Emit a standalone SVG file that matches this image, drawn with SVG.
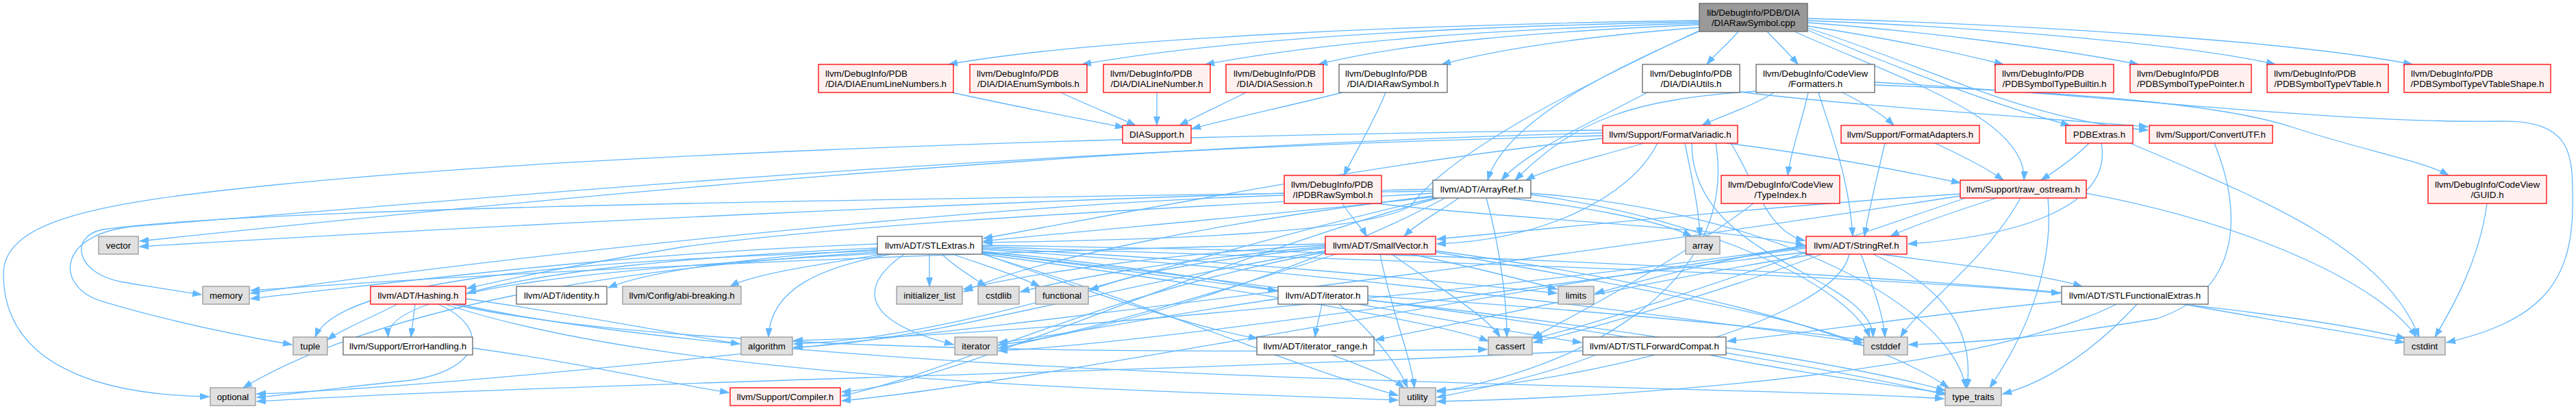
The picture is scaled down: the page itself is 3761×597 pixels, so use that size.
<svg xmlns="http://www.w3.org/2000/svg" width="3761" height="597" viewBox="0 0 3761 597">
<style>
text{font-family:"Liberation Sans",Arial,Helvetica,sans-serif;font-size:13.33px;fill:#000}
.c{text-anchor:middle}
.n rect{stroke-width:1.3}
.r rect{fill:#fff0f0;stroke:#ff0000}
.w rect{fill:#ffffff;stroke:#666666}
.g rect{fill:#e0e0e0;stroke:#999999}
.root rect{fill:#999999;stroke:#666666}
#edges path{fill:none;stroke:#63b8ff;stroke-width:1.3;marker-end:url(#a)}
</style>
<defs>
<marker id="a" viewBox="0 0 14 10" markerWidth="14" markerHeight="10" refX="13" refY="5" orient="auto" markerUnits="userSpaceOnUse"><path d="M0,0.5 L13,5 L0,9.5 z" fill="#63b8ff" stroke="#63b8ff" stroke-width="1"/></marker>
</defs>
<rect x="0" y="0" width="3761" height="597" fill="#ffffff"/>
<g id="edges">
<path d="M2481,30 C2100,35 1600,55 1385,94"/>
<path d="M2481,32 C2150,38 1800,55 1580,94"/>
<path d="M2481,34 C2200,42 1950,58 1760,94"/>
<path d="M2481,36 C2250,46 2050,62 1925,94"/>
<path d="M2481,40 C2330,52 2200,68 2105,94"/>
<path d="M2538,46 C2525,62 2505,78 2492,94"/>
<path d="M2580,46 C2595,62 2612,78 2625,94"/>
<path d="M2639,38 C2750,55 2850,75 2925,94"/>
<path d="M2639,33 C2800,45 3000,70 3122,94"/>
<path d="M2639,30 C2900,40 3200,65 3322,94"/>
<path d="M2639,27 C2950,35 3350,60 3522,94"/>
<path d="M2639,44 C2760,95 2900,150 3022,183"/>
<path d="M2639,41 C2800,90 2950,175 3136,190"/>
<path d="M2620,46 C2760,110 2960,170 2955,263"/>
<path d="M2483,45 C2380,90 2200,170 2172,263"/>
<path d="M2482,44 C2300,130 2120,220 2060,300 C2000,340 1700,350 1436,354"/>
<path d="M1390,135 C1480,155 1570,172 1641,186"/>
<path d="M1549,135 C1580,150 1625,168 1658,183"/>
<path d="M1689,135 L1689,183"/>
<path d="M1819,135 C1790,150 1750,168 1722,183"/>
<path d="M1960,135 C1880,155 1800,172 1740,188"/>
<path d="M2023,135 C2005,180 1980,220 1962,256"/>
<path d="M2540,134 C2680,152 2950,170 3136,185"/>
<path d="M2405,135 C2330,175 2230,220 2192,263"/>
<path d="M2590,135 C2560,155 2510,170 2485,183"/>
<path d="M2640,135 C2630,180 2615,220 2610,256"/>
<path d="M2690,135 C2720,150 2750,168 2765,183"/>
<path d="M2655,135 C2672,190 2700,260 2705,345"/>
<path d="M2566,133 C2380,145 2300,175 2212,263"/>
<path d="M2737,124 C2950,132 3220,145 3345,185 C3450,220 3540,235 3575,256"/>
<path d="M2737,120 C3100,140 3400,180 3650,177 C3760,175 3756,230 3756,300 C3756,420 3700,470 3572,500"/>
<path d="M2400,209 C2330,230 2260,245 2228,263"/>
<path d="M2340,190 C1500,200 800,230 400,270 C150,295 5,320 5,400 C5,520 120,576 305,579"/>
<path d="M2340,194 C1500,215 600,310 204,352"/>
<path d="M2340,198 C1400,220 600,300 200,330 C80,340 80,420 150,440 C250,470 350,490 426,503"/>
<path d="M2340,202 C2000,240 1700,300 1436,348"/>
<path d="M2420,209 C2380,290 2250,350 2098,356"/>
<path d="M2527,209 C2560,260 2580,340 2635,351"/>
<path d="M2520,209 C2650,225 2780,250 2862,267"/>
<path d="M2460,209 C2470,260 2480,300 2482,345"/>
<path d="M2470,209 C2470,380 2730,400 2735,492"/>
<path d="M2505,209 C2540,420 2300,540 2098,572"/>
<path d="M2825,209 C2860,225 2900,245 2925,263"/>
<path d="M2752,209 C2740,260 2730,300 2722,345"/>
<path d="M3050,209 C3030,230 3000,250 2980,263"/>
<path d="M3068,209 C3085,300 2950,345 2786,356"/>
<path d="M3110,209 C3300,290 3480,360 3532,492"/>
<path d="M3233,209 C3270,300 3280,420 3150,465 C3000,490 2900,500 2787,503"/>
<path d="M1960,297 C1975,320 1990,335 1995,345"/>
<path d="M1875,285 C1400,300 700,380 366,428"/>
<path d="M2010,297 C2200,320 2500,330 2635,358"/>
<path d="M2092,282 C1800,300 1300,320 1000,360 C850,385 750,405 682,421"/>
<path d="M2095,287 C1900,310 1600,335 1436,352"/>
<path d="M2130,289 C2100,310 2070,325 2050,345"/>
<path d="M2100,289 C1700,400 1400,560 1229,572"/>
<path d="M2095,289 C1700,380 1400,495 1159,502"/>
<path d="M2200,289 C2300,300 2420,320 2470,345"/>
<path d="M2170,289 C2190,360 2200,440 2200,492"/>
<path d="M2235,284 C2500,320 2700,420 2730,492"/>
<path d="M2094,286 C1800,320 1500,380 1407,426"/>
<path d="M2110,289 C1900,400 1600,490 1458,503"/>
<path d="M2092,279 C1400,290 400,300 150,335 C100,345 110,400 180,412 C230,420 260,425 294,430"/>
<path d="M2235,282 C2600,310 2850,450 2870,566"/>
<path d="M2092,276 C1500,290 700,330 204,360"/>
<path d="M1281,362 C1000,375 800,395 682,428"/>
<path d="M1434,367 C1800,400 2100,470 2309,500"/>
<path d="M1434,360 C2000,380 2700,400 3008,428"/>
<path d="M1281,364 C1100,375 950,395 888,420"/>
<path d="M1434,368 C1600,390 1750,410 1864,424"/>
<path d="M1434,370 C1600,430 1750,480 1836,494"/>
<path d="M1290,371 C1200,385 1100,400 1066,418"/>
<path d="M1285,370 C900,390 560,420 567,492"/>
<path d="M1300,371 C1200,390 1125,420 1122,492"/>
<path d="M1434,371 C1800,420 2100,470 2173,498"/>
<path d="M1434,364 C2000,400 2500,470 2719,500"/>
<path d="M1434,358 C2300,370 3200,420 3512,494"/>
<path d="M1375,371 C1395,390 1420,405 1440,418"/>
<path d="M1391,371 C1430,385 1480,400 1518,418"/>
<path d="M1357,371 L1357,418"/>
<path d="M1320,371 C1250,420 1260,470 1392,503"/>
<path d="M1434,362 C1800,380 2100,410 2273,428"/>
<path d="M1281,356 C900,370 600,410 366,436"/>
<path d="M1281,368 C900,390 550,450 355,566"/>
<path d="M1281,366 C900,380 500,400 460,492"/>
<path d="M1434,369 C2000,430 2600,520 2840,576"/>
<path d="M1434,371 C1700,450 1900,540 2041,577"/>
<path d="M1935,368 C1600,430 1400,540 1229,578"/>
<path d="M1935,366 C1600,420 1350,500 1159,507"/>
<path d="M2032,371 C2100,420 2170,460 2190,492"/>
<path d="M2096,368 C2400,420 2650,470 2719,504"/>
<path d="M1935,360 C1700,380 1550,410 1490,426"/>
<path d="M1935,362 C1750,380 1650,400 1591,424"/>
<path d="M1935,358 C1700,370 1500,400 1407,422"/>
<path d="M1950,371 C1800,420 1600,480 1458,508"/>
<path d="M2060,371 C2150,390 2230,410 2273,422"/>
<path d="M1935,356 C1300,370 700,400 366,424"/>
<path d="M2096,366 C2500,420 2750,500 2845,566"/>
<path d="M2015,371 C2030,450 2060,520 2065,566"/>
<path d="M606,444 L600,492"/>
<path d="M580,444 C540,465 500,480 478,496"/>
<path d="M640,444 C720,480 700,540 600,555 C500,565 430,575 375,580"/>
<path d="M680,436 C850,460 1000,490 1080,502"/>
<path d="M660,444 C1000,520 1800,515 2171,510"/>
<path d="M670,444 C1200,560 2500,560 2838,582"/>
<path d="M650,444 C1000,560 1700,570 2041,584"/>
<path d="M690,508 C850,530 950,555 1064,573"/>
<path d="M1930,444 C1927,460 1922,476 1920,492"/>
<path d="M1866,436 C1700,460 1550,490 1458,500"/>
<path d="M1997,432 C2300,450 2600,480 2721,496"/>
<path d="M1997,438 C2300,470 2700,530 2840,570"/>
<path d="M1955,444 C2000,480 2040,530 2055,566"/>
<path d="M1945,518 C1990,535 2030,550 2050,566"/>
<path d="M2311,512 C1800,540 800,560 375,586"/>
<path d="M2496,518 C2600,540 2750,560 2840,574"/>
<path d="M2330,518 C2250,550 2150,570 2098,580"/>
<path d="M3010,440 C2800,460 2650,485 2522,498"/>
<path d="M3189,444 C3300,465 3450,488 3510,500"/>
<path d="M3120,444 C3050,520 2980,560 2924,575"/>
<path d="M3090,444 C2900,540 2400,580 2098,586"/>
<path d="M2745,371 C2850,385 2980,400 3040,418"/>
<path d="M2650,371 C2400,410 2150,470 2008,496"/>
<path d="M2637,362 C2200,420 1500,560 1229,585"/>
<path d="M2637,360 C2200,420 1500,490 1159,497"/>
<path d="M2660,371 C2500,430 2320,480 2239,500"/>
<path d="M2717,371 C2735,420 2750,460 2752,492"/>
<path d="M2637,368 C2200,420 1700,500 1458,512"/>
<path d="M2637,358 C2500,380 2400,410 2329,428"/>
<path d="M2735,371 C2860,430 2880,500 2872,566"/>
<path d="M2700,371 C2680,470 2300,560 2098,570"/>
<path d="M2862,283 C2600,300 2300,330 2098,349"/>
<path d="M2915,289 C2850,310 2790,330 2760,345"/>
<path d="M2870,289 C2600,380 2350,470 2239,494"/>
<path d="M2950,289 C2900,380 2800,450 2775,492"/>
<path d="M3046,282 C3300,330 3480,420 3528,492"/>
<path d="M2862,286 C2000,420 800,560 375,575"/>
<path d="M2990,289 C3000,400 2950,500 2905,566"/>
<path d="M2560,297 C2450,380 2300,460 2237,493"/>
<path d="M3631,297 C3620,380 3580,450 3555,492"/>
</g>
<g id="n_root" class="n root"><rect x="2481" y="5" width="158" height="41"/><text class="c" x="2560" y="23">lib/DebugInfo/PDB/DIA</text><text class="c" x="2560" y="38">/DIARawSymbol.cpp</text></g>
<g id="n_enumLN" class="n r"><rect x="1195" y="94" width="197" height="41"/><text x="1205" y="112">llvm/DebugInfo/PDB</text><text class="c" x="1293.5" y="127">/DIA/DIAEnumLineNumbers.h</text></g>
<g id="n_enumSym" class="n r"><rect x="1416" y="94" width="171" height="41"/><text x="1426" y="112">llvm/DebugInfo/PDB</text><text class="c" x="1501.5" y="127">/DIA/DIAEnumSymbols.h</text></g>
<g id="n_lineNum" class="n r"><rect x="1611" y="94" width="156" height="41"/><text x="1621" y="112">llvm/DebugInfo/PDB</text><text class="c" x="1689" y="127">/DIA/DIALineNumber.h</text></g>
<g id="n_session" class="n r"><rect x="1790" y="94" width="142" height="41"/><text class="c" x="1861" y="112">llvm/DebugInfo/PDB</text><text class="c" x="1861" y="127">/DIA/DIASession.h</text></g>
<g id="n_rawSymH" class="n w"><rect x="1955" y="94" width="158" height="41"/><text x="1964" y="112">llvm/DebugInfo/PDB</text><text class="c" x="2034" y="127">/DIA/DIARawSymbol.h</text></g>
<g id="n_utils" class="n w"><rect x="2398" y="94" width="142" height="41"/><text class="c" x="2469" y="112">llvm/DebugInfo/PDB</text><text class="c" x="2469" y="127">/DIA/DIAUtils.h</text></g>
<g id="n_formatters" class="n w"><rect x="2564" y="94" width="173" height="41"/><text class="c" x="2650.5" y="112">llvm/DebugInfo/CodeView</text><text class="c" x="2650.5" y="127">/Formatters.h</text></g>
<g id="n_builtin" class="n r"><rect x="2913" y="94" width="173" height="41"/><text x="2923" y="112">llvm/DebugInfo/PDB</text><text class="c" x="2999.5" y="127">/PDBSymbolTypeBuiltin.h</text></g>
<g id="n_pointer" class="n r"><rect x="3110" y="94" width="177" height="41"/><text x="3120" y="112">llvm/DebugInfo/PDB</text><text class="c" x="3198.5" y="127">/PDBSymbolTypePointer.h</text></g>
<g id="n_vtable" class="n r"><rect x="3310" y="94" width="177" height="41"/><text x="3320" y="112">llvm/DebugInfo/PDB</text><text class="c" x="3398.5" y="127">/PDBSymbolTypeVTable.h</text></g>
<g id="n_vtshape" class="n r"><rect x="3510" y="94" width="214" height="41"/><text x="3520" y="112">llvm/DebugInfo/PDB</text><text class="c" x="3617" y="127">/PDBSymbolTypeVTableShape.h</text></g>
<g id="n_diaSupport" class="n r"><rect x="1639" y="183" width="100" height="26"/><text class="c" x="1689" y="201">DIASupport.h</text></g>
<g id="n_fmtVariadic" class="n r"><rect x="2340" y="183" width="197" height="26"/><text class="c" x="2438.5" y="201">llvm/Support/FormatVariadic.h</text></g>
<g id="n_fmtAdapters" class="n r"><rect x="2688" y="183" width="202" height="26"/><text class="c" x="2789" y="201">llvm/Support/FormatAdapters.h</text></g>
<g id="n_pdbExtras" class="n r"><rect x="3016" y="183" width="98" height="26"/><text class="c" x="3065" y="201">PDBExtras.h</text></g>
<g id="n_convertUTF" class="n r"><rect x="3138" y="183" width="180" height="26"/><text class="c" x="3228" y="201">llvm/Support/ConvertUTF.h</text></g>
<g id="n_ipdbRaw" class="n r"><rect x="1875" y="256" width="142" height="41"/><text x="1885" y="274">llvm/DebugInfo/PDB</text><text class="c" x="1946" y="289">/IPDBRawSymbol.h</text></g>
<g id="n_arrayRef" class="n w"><rect x="2092" y="263" width="143" height="26"/><text class="c" x="2163.5" y="281">llvm/ADT/ArrayRef.h</text></g>
<g id="n_typeIndex" class="n r"><rect x="2513" y="256" width="173" height="41"/><text class="c" x="2599.5" y="274">llvm/DebugInfo/CodeView</text><text class="c" x="2599.5" y="289">/TypeIndex.h</text></g>
<g id="n_rawOstream" class="n r"><rect x="2862" y="263" width="184" height="26"/><text class="c" x="2954" y="281">llvm/Support/raw_ostream.h</text></g>
<g id="n_guid" class="n r"><rect x="3545" y="256" width="173" height="41"/><text class="c" x="3631.5" y="274">llvm/DebugInfo/CodeView</text><text class="c" x="3631.5" y="289">/GUID.h</text></g>
<g id="n_vector" class="n g"><rect x="144" y="345" width="58" height="26"/><text class="c" x="173" y="363">vector</text></g>
<g id="n_stlExtras" class="n w"><rect x="1281" y="345" width="153" height="26"/><text class="c" x="1357.5" y="363">llvm/ADT/STLExtras.h</text></g>
<g id="n_smallVector" class="n r"><rect x="1935" y="345" width="161" height="26"/><text class="c" x="2015.5" y="363">llvm/ADT/SmallVector.h</text></g>
<g id="n_array" class="n g"><rect x="2461" y="345" width="50" height="26"/><text class="c" x="2486" y="363">array</text></g>
<g id="n_stringRef" class="n r"><rect x="2637" y="345" width="147" height="26"/><text class="c" x="2710.5" y="363">llvm/ADT/StringRef.h</text></g>
<g id="n_memory" class="n g"><rect x="296" y="418" width="68" height="26"/><text class="c" x="330" y="436">memory</text></g>
<g id="n_hashing" class="n r"><rect x="541" y="418" width="139" height="26"/><text class="c" x="610.5" y="436">llvm/ADT/Hashing.h</text></g>
<g id="n_identity" class="n w"><rect x="754" y="418" width="132" height="26"/><text class="c" x="820" y="436">llvm/ADT/identity.h</text></g>
<g id="n_abi" class="n g"><rect x="909" y="418" width="173" height="26"/><text class="c" x="995.5" y="436">llvm/Config/abi-breaking.h</text></g>
<g id="n_initList" class="n g"><rect x="1309" y="418" width="96" height="26"/><text class="c" x="1357" y="436">initializer_list</text></g>
<g id="n_cstdlib" class="n g"><rect x="1428" y="418" width="60" height="26"/><text class="c" x="1458" y="436">cstdlib</text></g>
<g id="n_functional" class="n g"><rect x="1512" y="418" width="77" height="26"/><text class="c" x="1550.5" y="436">functional</text></g>
<g id="n_iteratorH" class="n w"><rect x="1866" y="418" width="131" height="26"/><text class="c" x="1931.5" y="436">llvm/ADT/iterator.h</text></g>
<g id="n_limits" class="n g"><rect x="2275" y="418" width="52" height="26"/><text class="c" x="2301" y="436">limits</text></g>
<g id="n_stlFunc" class="n w"><rect x="3010" y="418" width="214" height="26"/><text class="c" x="3117" y="436">llvm/ADT/STLFunctionalExtras.h</text></g>
<g id="n_tuple" class="n g"><rect x="428" y="492" width="50" height="26"/><text class="c" x="453" y="510">tuple</text></g>
<g id="n_errorH" class="n w"><rect x="501" y="492" width="189" height="26"/><text class="c" x="595.5" y="510">llvm/Support/ErrorHandling.h</text></g>
<g id="n_algorithm" class="n g"><rect x="1082" y="492" width="75" height="26"/><text class="c" x="1119.5" y="510">algorithm</text></g>
<g id="n_iterator" class="n g"><rect x="1394" y="492" width="62" height="26"/><text class="c" x="1425" y="510">iterator</text></g>
<g id="n_iterRange" class="n w"><rect x="1835" y="492" width="171" height="26"/><text class="c" x="1920.5" y="510">llvm/ADT/iterator_range.h</text></g>
<g id="n_cassert" class="n g"><rect x="2173" y="492" width="64" height="26"/><text class="c" x="2205" y="510">cassert</text></g>
<g id="n_stlFwd" class="n w"><rect x="2311" y="492" width="209" height="26"/><text class="c" x="2415.5" y="510">llvm/ADT/STLForwardCompat.h</text></g>
<g id="n_cstddef" class="n g"><rect x="2721" y="492" width="64" height="26"/><text class="c" x="2753" y="510">cstddef</text></g>
<g id="n_cstdint" class="n g"><rect x="3510" y="492" width="60" height="26"/><text class="c" x="3540" y="510">cstdint</text></g>
<g id="n_optional" class="n g"><rect x="307" y="566" width="66" height="26"/><text class="c" x="340" y="584">optional</text></g>
<g id="n_compiler" class="n r"><rect x="1066" y="566" width="161" height="26"/><text class="c" x="1146.5" y="584">llvm/Support/Compiler.h</text></g>
<g id="n_utility" class="n g"><rect x="2043" y="566" width="53" height="26"/><text class="c" x="2069.5" y="584">utility</text></g>
<g id="n_typeTraits" class="n g"><rect x="2840" y="566" width="82" height="26"/><text class="c" x="2881" y="584">type_traits</text></g>
</svg>
